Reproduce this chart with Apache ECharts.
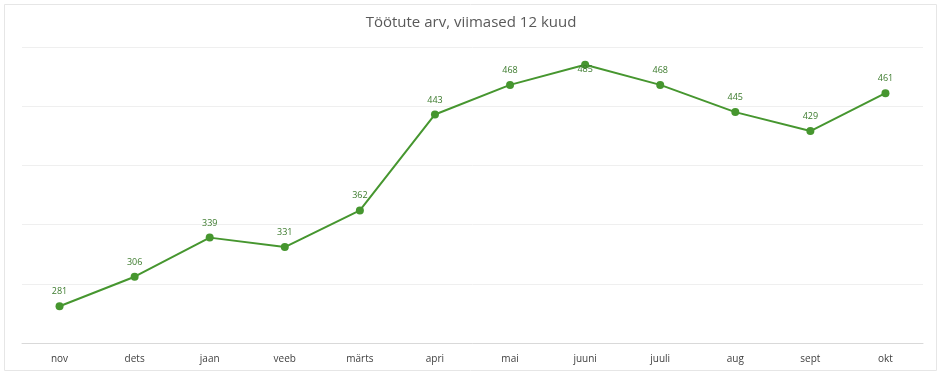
<!DOCTYPE html>
<html><head><meta charset="utf-8">
<script src="https://cdn.jsdelivr.net/npm/echarts@6/dist/echarts.min.js"></script>
<style>html,body{margin:0;padding:0;background:#fff}#c{width:942px;height:375px}</style>
</head><body><div id="c"></div>
<script>
const categories = ['nov','dets','jaan','veeb','märts','apri','mai','juuni','juuli','aug','sept','okt'];
const values = [281,306,339,331,362,443,468,485,468,445,429,461];
const titleText = 'Töötute arv, viimased 12 kuud';
const maxIdx = values.indexOf(Math.max(...values));
const seriesData = values.map((v,i)=> i===maxIdx ? {value:v,label:{position:'inside',offset:[0,5]}} : v);
const chart = echarts.init(document.getElementById('c'), null, {renderer:'canvas'});
chart.setOption({
  animation:false,
  backgroundColor:'#fff',
  graphic:[{type:'rect',shape:{x:4.5,y:4.5,width:932,height:366},style:{fill:'none',stroke:'#e6e6e6',lineWidth:1}}],
  title:{text:titleText,left:'center',top:10,textStyle:{fontFamily:'Open Sans',fontSize:15,fontWeight:'normal',color:'#595959'}},
  grid:{left:22,right:19,top:47,bottom:32},
  xAxis:{type:'category',data:categories,boundaryGap:true,
    axisLine:{lineStyle:{color:'#d9d9d9',width:1}},axisTick:{show:false},
    axisLabel:{color:'#404040',fontFamily:'Open Sans',fontSize:10,margin:11}},
  yAxis:{type:'value',min:250,max:500,interval:50,axisLabel:{show:false},axisLine:{show:false},axisTick:{show:false},
    splitLine:{lineStyle:{color:'#efefef',width:1}}},
  series:[{type:'line',data:seriesData,symbol:'circle',symbolSize:8,
    lineStyle:{color:'#46962f',width:2},itemStyle:{color:'#46962f'},
    label:{show:true,position:'top',distance:6,color:'#3b7a2c',fontFamily:'Open Sans',fontSize:9}}]
});
</script></body></html>
